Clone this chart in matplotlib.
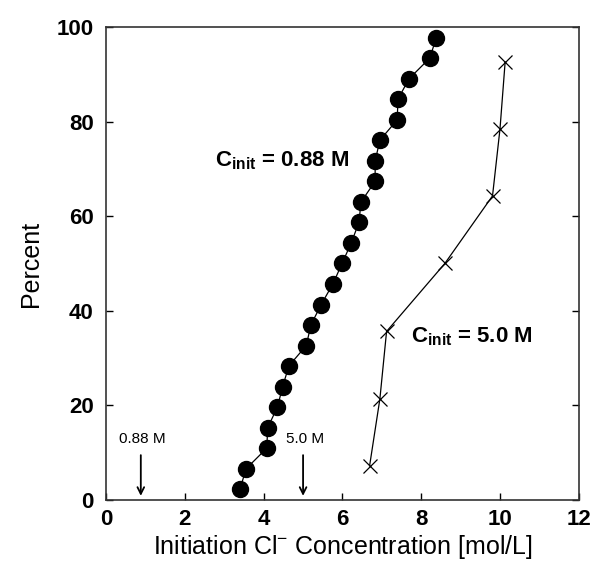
import matplotlib
matplotlib.use("Agg")
import matplotlib.pyplot as plt

plt.rcParams["font.family"] = ["Liberation Sans", "DejaVu Sans"]
plt.rcParams["mathtext.fontset"] = "custom"
plt.rcParams["mathtext.rm"] = "Liberation Sans"

# C_init = 0.88 M (filled circles)
x_088 = [3.40, 3.55, 4.08, 4.10, 4.35, 4.48, 4.64, 5.08, 5.20, 5.46, 5.76, 5.99,
         6.22, 6.42, 6.47, 6.83, 6.83, 6.95, 7.39, 7.41, 7.69, 8.22, 8.38]
y_088 = [2.2, 6.5, 10.9, 15.2, 19.6, 23.9, 28.3, 32.6, 37.0, 41.3, 45.7, 50.0,
         54.3, 58.7, 63.0, 67.4, 71.7, 76.1, 80.4, 84.8, 89.1, 93.5, 97.8]

# C_init = 5.0 M (crosses)
x_50 = [6.69, 6.95, 7.12, 8.60, 9.81, 10.00, 10.13]
y_50 = [7.2, 21.3, 35.6, 50.0, 64.3, 78.5, 92.6]

arrow_x = [0.88, 5.0]
arrow_txt = ["0.88 M", "5.0 M"]

fig = plt.figure(figsize=(5.93, 5.69), dpi=100)
ax = fig.add_axes([0.179, 0.122, 0.797, 0.830])

ax.plot(x_088, y_088, "-", color="black", lw=0.9, marker="o", ms=11.5,
        mfc="black", mec="black")
ax.plot(x_50, y_50, "-", color="black", lw=0.9, marker="x", ms=10,
        mew=0.9)

for xa, t in zip(arrow_x, arrow_txt):
    ax.annotate("", xy=(xa, 0.2), xytext=(xa, 10),
                arrowprops=dict(arrowstyle="->", color="black", lw=1.3,
                                mutation_scale=12))
    ax.text(xa + 0.05, 12.8, t, ha="center", va="center", fontsize=11)

ax.text(2.77, 71.7, r"C$_{\mathregular{init}}$ = 0.88 M", fontsize=16,
        fontweight="bold", ha="left", va="center")
ax.text(7.73, 34.4, r"C$_{\mathregular{init}}$ = 5.0 M", fontsize=16,
        fontweight="bold", ha="left", va="center")

ax.set_xlim(0, 12)
ax.set_ylim(0, 100)
ax.set_xticks(range(0, 13, 2))
ax.set_yticks(range(0, 101, 20))
ax.tick_params(direction="in", length=5, width=1, labelsize=16, pad=9,
               top=False, right=True)
ax.tick_params(axis="x", pad=7)
for lab in ax.get_xticklabels() + ax.get_yticklabels():
    lab.set_fontweight("bold")
for sp in ax.spines.values():
    sp.set_linewidth(1.2)
    sp.set_color("#333333")

ax.set_xlabel(r"Initiation Cl$^{\mathregular{-}}$ Concentration [mol/L]", fontsize=18, labelpad=2)
ax.set_ylabel("Percent", fontsize=18, labelpad=10)

fig.savefig("out.png", dpi=100)
